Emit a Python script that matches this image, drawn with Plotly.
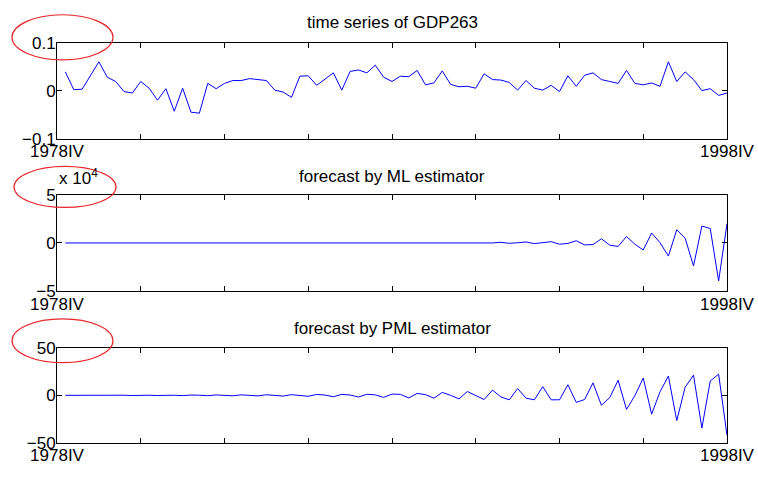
import plotly.graph_objects as go

# ---------------- data ----------------
x_start_label = "1978IV"
x_end_label = "1998IV"
quarter_index = list(range(1, 81))

gdp263 = [0.039, 0.002, 0.003, 0.031, 0.060, 0.028, 0.019, -0.002, -0.005, 0.019,
          0.005, -0.020, 0.004, -0.043, 0.005, -0.045, -0.047, 0.015, 0.004, 0.015,
          0.021, 0.021, 0.025, 0.023, 0.021, 0.001, -0.003, -0.014, 0.030, 0.031,
          0.011, 0.024, 0.037, 0.001, 0.040, 0.043, 0.037, 0.053, 0.028, 0.019,
          0.030, 0.029, 0.042, 0.012, 0.016, 0.041, 0.013, 0.008, 0.009, 0.005,
          0.035, 0.023, 0.022, 0.017, 0.001, 0.021, 0.005, 0.001, 0.011, -0.002,
          0.031, 0.009, 0.032, 0.037, 0.023, 0.019, 0.015, 0.042, 0.015, 0.012,
          0.016, 0.009, 0.060, 0.019, 0.039, 0.023, 0.000, 0.004, -0.010, -0.005]

# ML forecast, in units of 10^4
ml_forecast = [0.000, 0.001, 0.000, -0.001, 0.001, 0.000, -0.001, 0.001, 0.000, -0.001,
               0.002, 0.000, -0.002, 0.002, 0.000, -0.002, 0.003, 0.000, -0.003, 0.004,
               0.001, -0.004, 0.005, 0.001, -0.006, 0.007, 0.001, -0.008, 0.009, 0.002,
               -0.010, 0.011, 0.002, -0.012, 0.013, 0.003, -0.014, 0.015, 0.003, -0.010,
               0.020, 0.000, -0.020, 0.030, 0.000, -0.020, 0.030, -0.010, 0.000, 0.040,
               -0.020, 0.000, 0.066, -0.040, 0.020, 0.100, -0.070, 0.020, 0.130, -0.130,
               -0.050, 0.230, -0.200, -0.170, 0.430, -0.230, -0.360, 0.660, -0.130, -0.730,
               1.030, 0.030, -1.360, 1.360, 0.500, -2.380, 1.750, 1.490, -3.940, 2.000]

pml_forecast = [0.0, 0.1, -0.1, 0.1, 0.1, -0.1, 0.2, 0.1, -0.2, 0.2,
                0.1, -0.2, 0.3, 0.1, -0.3, 0.3, 0.1, -0.4, 0.4, 0.1,
                -0.5, 0.5, 0.2, -0.6, 0.6, 0.2, -0.8, 0.7, 0.2, -1.0,
                0.9, 0.3, -1.5, 1.0, 0.3, -1.8, 1.1, 0.5, -2.2, 1.3,
                1.0, -2.7, 2.0, 0.7, -3.0, 3.0, 0.0, -3.7, 4.0, 0.0,
                -4.4, 5.4, -1.7, -4.7, 7.1, -3.0, -4.7, 9.1, -4.7, -4.7,
                11.1, -7.4, -4.4, 13.1, -10.4, -2.4, 15.8, -14.8, -0.3, 18.1,
                -19.8, 3.7, 20.2, -26.5, 8.4, 21.2, -34.3, 15.1, 22.2, -42.0]

titles = ["time series of GDP263", "forecast by ML estimator", "forecast by PML estimator"]
y_tickvals = [[-0.1, 0, 0.1], [-5, 0, 5], [-50, 0, 50]]
y_ticktext = [["\u22120.1", "0", "0.1"], ["\u22125", "0", "5"], ["\u221250", "0", "50"]]
x_tickvals = [0, 10, 20, 30, 40, 50, 60, 70, 80]
x_ticktext = [x_start_label, "", "", "", "", "", "", "", x_end_label]

# ---------------- layout geometry (pixels) ----------------
W, H = 758, 477
L, R = 57, 727
panels_px = [(35, 135), (193.3, 294), (352.7, 452)]   # (top, bottom)
title_y_px = [14, 174.5, 333]
ellipses_px = [(12, 6, 113, 53), (14, 164, 116, 206.7), (12, 322.7, 113, 368.3)]

def py(p):
    return 1 - p / H

def px(p):
    return (p - L) / (R - L)

FONT = "Liberation Sans, Arial, Helvetica, sans-serif"
series = [gdp263, ml_forecast, pml_forecast]

fig = go.Figure()
for k in range(3):
    suffix = "" if k == 0 else str(k + 1)
    fig.add_trace(go.Scatter(x=quarter_index, y=series[k], mode="lines",
                             line=dict(color="#0000ff", width=1),
                             xaxis="x" + suffix, yaxis="y" + suffix,
                             showlegend=False, hoverinfo="skip"))
    top, bot = panels_px[k]
    common = dict(showline=True, linecolor="black", linewidth=1, mirror="ticks",
                  ticks="inside", ticklen=5, tickcolor="black", tickwidth=1,
                  showgrid=False, zeroline=False,
                  tickfont=dict(family=FONT, size=17, color="black"))
    fig.layout["xaxis" + suffix] = dict(domain=[0, 1], range=[0, 80],
                                        anchor="y" + suffix,
                                        tickmode="array", tickvals=x_tickvals,
                                        ticktext=x_ticktext, ticklabelstandoff=-3,
                                        **common)
    fig.layout["yaxis" + suffix] = dict(domain=[py(bot), py(top)],
                                        range=[y_tickvals[k][0], y_tickvals[k][2]],
                                        anchor="x" + suffix,
                                        tickmode="array", tickvals=y_tickvals[k],
                                        ticktext=y_ticktext[k], ticklabelstandoff=-3,
                                        **common)
    fig.add_annotation(text=titles[k], xref="paper", yref="paper", x=0.5,
                       y=py(title_y_px[k]), xanchor="center", yanchor="middle",
                       showarrow=False, font=dict(family=FONT, size=17, color="black"))
    x0, y0, x1, y1 = ellipses_px[k]
    fig.add_shape(type="circle", xref="paper", yref="paper",
                  x0=px(x0), x1=px(x1), y0=py(y1), y1=py(y0),
                  line=dict(color="#e8262b", width=1.2))

fig.add_annotation(text="x 10<sup>4</sup>", xref="paper", yref="paper",
                   x=0, y=py(189), xanchor="left", yanchor="bottom",
                   showarrow=False, font=dict(family=FONT, size=17, color="black"))

fig.update_layout(width=W, height=H, margin=dict(l=L, r=W - R, t=0, b=0),
                  paper_bgcolor="white", plot_bgcolor="white")

fig.write_html("out.html")
